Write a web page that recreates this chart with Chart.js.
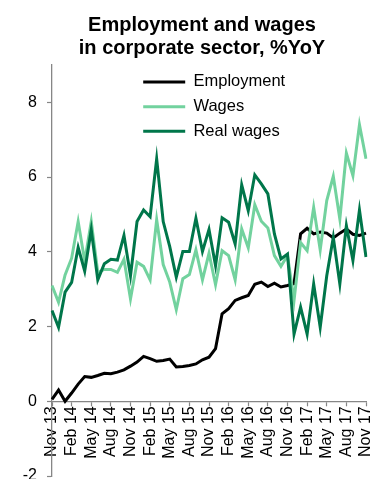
<!DOCTYPE html>
<html>
<head>
<meta charset="utf-8">
<script src="https://cdn.jsdelivr.net/npm/chart.js@4.4.1/dist/chart.umd.min.js"></script>
<style>
  html, body { margin: 0; padding: 0; background: #fff; }
  #wrap { position: relative; width: 372px; height: 479px; }
</style>
</head>
<body>
<div id="wrap"><canvas id="chart"></canvas></div>
<script>
// monthly, Nov 2013 - Nov 2017
const months = [
  'Nov 13', 'Dec 13',
  'Jan 14', 'Feb 14', 'Mar 14', 'Apr 14', 'May 14', 'Jun 14', 'Jul 14', 'Aug 14', 'Sep 14', 'Oct 14', 'Nov 14', 'Dec 14',
  'Jan 15', 'Feb 15', 'Mar 15', 'Apr 15', 'May 15', 'Jun 15', 'Jul 15', 'Aug 15', 'Sep 15', 'Oct 15', 'Nov 15', 'Dec 15',
  'Jan 16', 'Feb 16', 'Mar 16', 'Apr 16', 'May 16', 'Jun 16', 'Jul 16', 'Aug 16', 'Sep 16', 'Oct 16', 'Nov 16', 'Dec 16',
  'Jan 17', 'Feb 17', 'Mar 17', 'Apr 17', 'May 17', 'Jun 17', 'Jul 17', 'Aug 17', 'Sep 17', 'Oct 17', 'Nov 17'
];

const employment = [
  0.05, 0.30,
  0.00, 0.22, 0.46, 0.66, 0.64, 0.69, 0.75, 0.74, 0.78, 0.84, 0.94, 1.05,
  1.20, 1.14, 1.07, 1.09, 1.13, 0.92, 0.93, 0.96, 1.00, 1.11, 1.18, 1.41,
  2.34, 2.48, 2.70, 2.77, 2.83, 3.13, 3.19, 3.07, 3.16, 3.06, 3.10, 3.15,
  4.48, 4.63, 4.48, 4.53, 4.50, 4.37, 4.50, 4.61, 4.47, 4.44, 4.50
];

const wages = [
  3.10, 2.65,
  3.38, 3.83, 4.81, 3.75, 4.81, 3.45, 3.53, 3.53, 3.45, 3.80, 2.74, 3.72,
  3.61, 3.25, 4.86, 3.66, 3.19, 2.45, 3.28, 3.39, 4.05, 3.25, 3.96, 3.12,
  4.03, 3.90, 3.25, 4.61, 4.11, 5.26, 4.82, 4.64, 3.90, 3.61, 3.90, 2.70,
  4.25, 4.03, 5.19, 4.05, 5.37, 6.02, 4.88, 6.64, 6.04, 7.40, 6.49
];

const realWages = [
  2.43, 1.98,
  2.92, 3.18, 4.12, 3.48, 4.59, 3.25, 3.68, 3.80, 3.78, 4.44, 3.36, 4.81,
  5.12, 4.94, 6.49, 4.81, 4.14, 3.32, 4.01, 4.01, 4.90, 4.01, 4.60, 3.63,
  4.91, 4.79, 4.21, 5.79, 5.10, 6.06, 5.82, 5.55, 4.48, 3.81, 3.94, 1.80,
  2.52, 1.80, 3.14, 1.98, 3.36, 4.39, 3.14, 4.70, 3.77, 5.12, 3.86
];

const yMin = -2;
const yMax = 9;
const yStep = 2;
const labelEvery = 3;

const axisGrey = '#868686';
Chart.defaults.font.family = '"Liberation Sans", Arial, sans-serif';
Chart.defaults.color = '#000';

// legend sits inside the plot, title is centred a bit right of the canvas middle
const placeBoxes = {
  id: 'placeBoxes',
  afterLayout(chart) {
    chart.legend.left = 135;
    chart.legend.top = 65.5;
    chart.titleBlock.left = 38;
    chart.titleBlock.right = 366;
  }
};

const lineSet = (label, data, color, order) => ({
  label: label,
  data: data,
  borderColor: color,
  backgroundColor: color,
  borderWidth: 3,
  pointRadius: 0,
  pointStyle: 'line',
  pointBorderWidth: 3,
  tension: 0,
  order: order,
});

new Chart(document.getElementById('chart'), {
  type: 'line',
  data: {
    labels: months,
    datasets: [
      lineSet('Employment', employment, '#000000', 3),
      lineSet('Wages', wages, '#72d29e', 2),
      lineSet('Real wages', realWages, '#00764a', 1),
    ],
  },
  options: {
    responsive: true,
    maintainAspectRatio: false,
    animation: false,
    layout: { padding: { top: 0, right: 6, bottom: 3, left: 0 } },
    plugins: {
      title: {
        display: true,
        text: ['Employment and wages', 'in corporate sector, %YoY'],
        color: '#000',
        font: { size: 20, weight: 'bold', lineHeight: 1.15 },
        padding: { top: 14, bottom: 5 },
      },
      legend: {
        position: 'chartArea',
        align: 'start',
        labels: {
          usePointStyle: true,
          pointStyleWidth: 42,
          padding: 8.2,
          color: '#000',
          font: { size: 16.5 },
          sort: (a, b) => a.datasetIndex - b.datasetIndex,
        },
      },
      tooltip: { enabled: false },
    },
    scales: {
      x: {
        type: 'category',
        position: { y: 0 },
        grid: {
          drawOnChartArea: false,
          tickLength: 4,
          tickWidth: 1.2,
          tickColor: (ctx) => ctx.index % labelEvery === 0 ? axisGrey : 'rgba(0,0,0,0)',
        },
        border: { color: axisGrey, width: 1.3 },
        ticks: {
          autoSkip: false,
          minRotation: 90,
          maxRotation: 90,
          padding: 1,
          font: { size: 16 },
          color: '#000',
          callback: function (val, i) {
            return i % labelEvery === 0 ? this.getLabelForValue(val) : '';
          },
        },
        afterFit: (scale) => { scale.paddingLeft = 0; scale.paddingRight = 0; },
      },
      y: {
        min: yMin,
        max: yMax,
        grid: { drawOnChartArea: false, tickLength: 5, tickWidth: 1.2, tickColor: axisGrey },
        border: { color: axisGrey, width: 1.3 },
        ticks: { stepSize: yStep, includeBounds: false, padding: 10, font: { size: 16 }, color: '#000' },
        afterFit: (scale) => { scale.width = 52; scale.paddingTop = 0; scale.paddingBottom = 0; },
      },
    },
  },
  plugins: [placeBoxes],
});
</script>
</body>
</html>
